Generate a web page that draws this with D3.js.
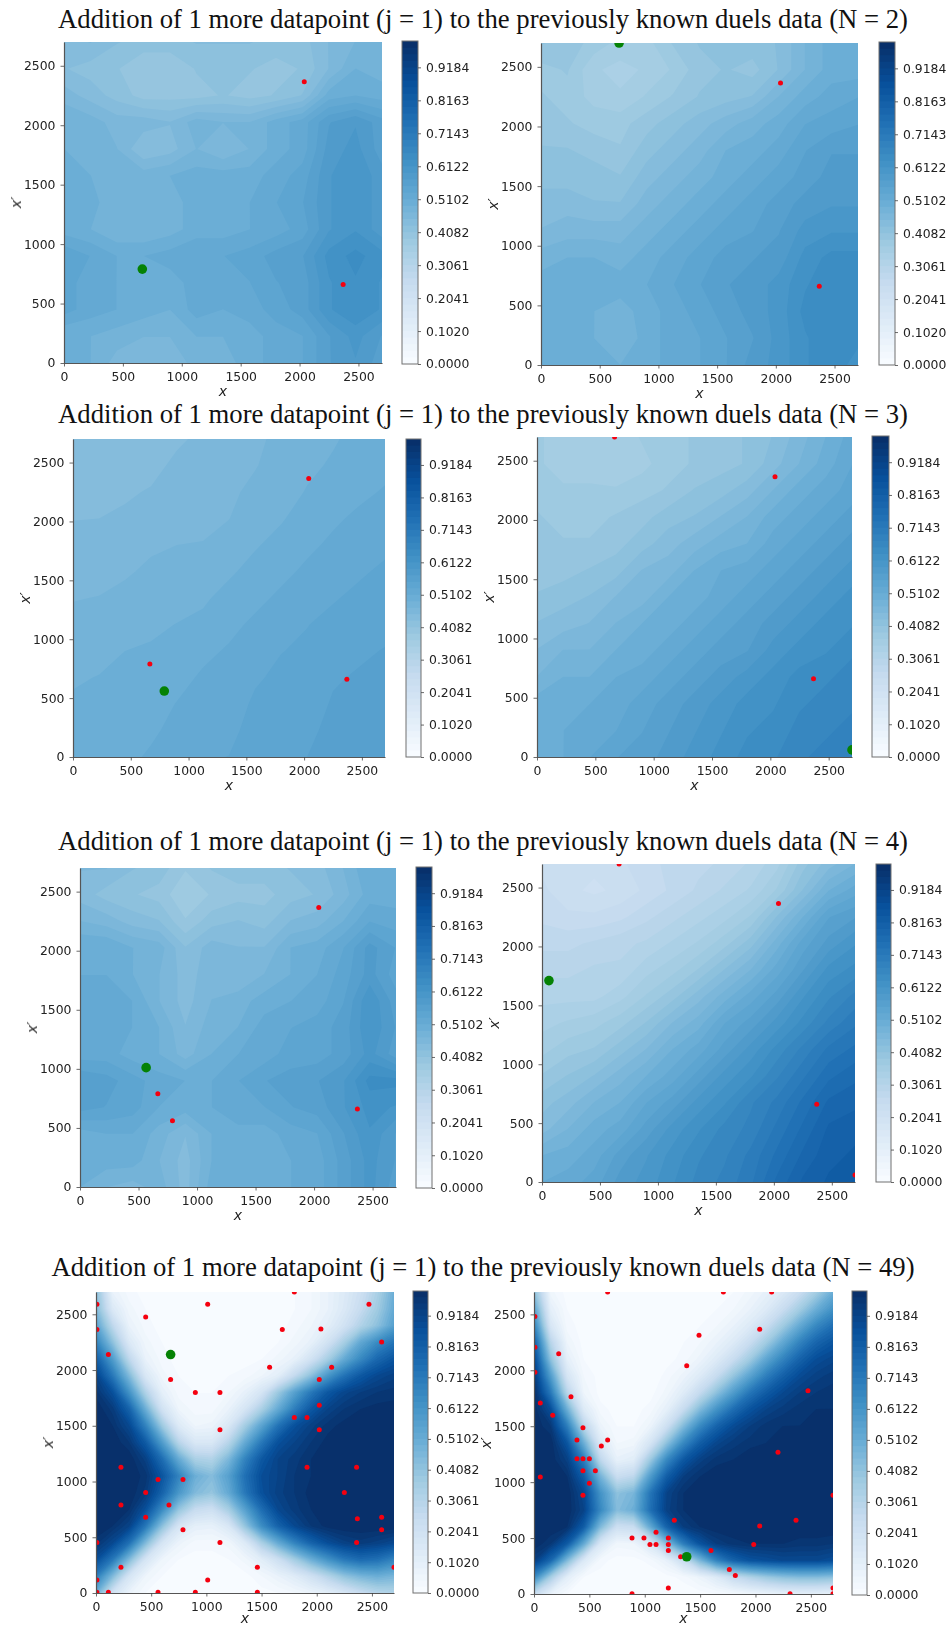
<!DOCTYPE html>
<html>
<head>
<meta charset="utf-8">
<script src="https://cdn.jsdelivr.net/npm/d3@7"></script>
<style>
  body { margin: 0; background: #fff; }
  svg { display: block; }
  .title { font-family: "Liberation Serif", serif; font-size: 26.7px; fill: #111; text-anchor: middle; }
  .tick text { font-family: "DejaVu Sans", sans-serif; font-size: 12.4px; fill: #222; }
  .axlabel { font-family: "DejaVu Sans", sans-serif; font-size: 14px; font-style: italic; fill: #222; text-anchor: middle; }
  .soft { filter: blur(0.3px); }
</style>
</head>
<body>
<div id="plot-container"></div>
<script>
'use strict';
// Acquisition surfaces. Rows run from x' = 2700 down to 0,
// columns from x = 0 to 2700.
const surfN2Left = [
  [.44,.45,.43,.42,.42,.43,.43,.43,.42,.42,.45,.47,.48],
  [.43,.42,.41,.39,.39,.41,.41,.41,.40,.41,.45,.49,.48],
  [.46,.44,.42,.40,.40,.40,.41,.40,.41,.43,.50,.51,.50],
  [.49,.48,.46,.46,.45,.48,.47,.47,.50,.52,.57,.59,.56],
  [.49,.48,.47,.43,.44,.47,.45,.47,.50,.52,.58,.60,.56],
  [.50,.49,.48,.48,.49,.50,.50,.50,.52,.54,.59,.61,.58],
  [.51,.50,.47,.47,.48,.50,.50,.51,.53,.55,.59,.61,.58],
  [.50,.49,.47,.47,.48,.50,.50,.51,.52,.54,.59,.61,.58],
  [.55,.53,.51,.51,.52,.53,.53,.54,.56,.57,.62,.64,.62],
  [.54,.52,.51,.51,.50,.52,.52,.53,.55,.56,.61,.63,.61],
  [.54,.52,.51,.50,.49,.52,.51,.52,.54,.56,.61,.63,.61],
  [.49,.49,.48,.47,.47,.49,.49,.50,.52,.53,.57,.60,.57],
  [.50,.49,.46,.45,.45,.48,.48,.50,.52,.53,.57,.59,.56]
];
const surfN2Right = [
  [.41,.40,.38,.36,.36,.39,.41,.42,.42,.43,.47,.50,.50],
  [.38,.39,.35,.34,.35,.37,.40,.41,.40,.43,.47,.50,.50],
  [.39,.38,.36,.35,.37,.39,.41,.42,.43,.47,.50,.52,.53],
  [.40,.39,.38,.38,.40,.42,.44,.46,.48,.50,.53,.54,.55],
  [.41,.41,.40,.39,.42,.44,.46,.49,.50,.52,.55,.57,.57],
  [.42,.42,.42,.41,.44,.46,.48,.50,.52,.54,.56,.58,.58],
  [.44,.44,.43,.43,.46,.48,.50,.52,.54,.56,.58,.59,.59],
  [.45,.46,.46,.46,.48,.50,.52,.54,.55,.57,.60,.61,.61],
  [.48,.49,.49,.48,.50,.52,.54,.56,.57,.58,.62,.64,.64],
  [.50,.51,.50,.50,.51,.53,.55,.57,.58,.60,.63,.65,.64],
  [.50,.50,.49,.48,.50,.52,.54,.56,.58,.60,.64,.65,.65],
  [.50,.50,.49,.47,.50,.52,.53,.55,.57,.60,.63,.65,.64],
  [.50,.50,.50,.49,.50,.52,.53,.55,.58,.60,.63,.65,.62]
];
const surfN3Left = [
  [.432,.434,.437,.44,.446,.453,.459,.465,.475,.482,.488,.495,.502],
  [.437,.4395,.441,.4435,.453,.457,.462,.468,.479,.486,.492,.498,.505],
  [.443,.4445,.4465,.4505,.458,.461,.465,.475,.482,.491,.4995,.506,.512],
  [.4484,.449,.452,.458,.464,.466,.469,.482,.488,.498,.507,.514,.52],
  [.455,.455,.4595,.4665,.4694,.470,.4775,.488,.496,.506,.514,.521,.5265],
  [.4617,.463,.467,.473,.476,.478,.487,.496,.505,.514,.521,.528,.534],
  [.4685,.47,.4745,.48,.483,.487,.496,.505,.514,.522,.529,.535,.54],
  [.4749,.476,.482,.486,.4903,.494,.505,.514,.522,.53,.536,.541,.546],
  [.4812,.484,.4898,.492,.4975,.5055,.5125,.521,.53,.534,.543,.548,.552],
  [.4876,.4905,.4945,.497,.504,.513,.517,.528,.535,.538,.549,.553,.556],
  [.4925,.4945,.4985,.502,.511,.518,.5205,.534,.539,.542,.553,.557,.56],
  [.497,.499,.503,.508,.514,.523,.5255,.538,.542,.547,.556,.56,.564],
  [.501,.505,.507,.512,.517,.528,.531,.542,.545,.551,.559,.563,.568]
];
const surfN3Right = [
  [.37,.36,.36,.35,.37,.38,.39,.40,.41,.43,.46,.49,.52],
  [.37,.36,.36,.35,.36,.38,.39,.40,.41,.44,.47,.50,.53],
  [.38,.37,.37,.37,.38,.39,.41,.42,.44,.47,.50,.52,.54],
  [.39,.38,.38,.39,.40,.42,.43,.45,.47,.50,.52,.54,.56],
  [.39,.39,.39,.40,.42,.44,.46,.48,.49,.52,.54,.56,.58],
  [.40,.40,.41,.42,.45,.46,.49,.51,.52,.54,.56,.58,.60],
  [.41,.42,.43,.45,.46,.49,.50,.52,.54,.56,.58,.60,.62],
  [.43,.44,.45,.47,.49,.50,.52,.54,.56,.58,.60,.62,.63],
  [.45,.47,.47,.49,.50,.52,.54,.56,.57,.60,.62,.63,.65],
  [.47,.49,.49,.51,.52,.54,.56,.58,.60,.62,.64,.65,.66],
  [.50,.50,.51,.52,.54,.56,.58,.60,.62,.63,.65,.66,.67],
  [.49,.51,.52,.53,.55,.57,.59,.61,.63,.64,.66,.67,.68],
  [.50,.51,.53,.55,.56,.58,.60,.62,.64,.65,.67,.68,.69]
];
const surfN4Left = [
  [.45,.45,.43,.42,.39,.41,.42,.42,.43,.44,.47,.51,.50],
  [.44,.42,.41,.40,.37,.39,.40,.40,.42,.43,.46,.50,.50],
  [.47,.46,.44,.43,.39,.42,.43,.42,.45,.46,.49,.53,.52],
  [.51,.51,.49,.48,.43,.46,.45,.45,.49,.50,.53,.58,.55],
  [.51,.51,.49,.47,.44,.46,.45,.47,.49,.51,.54,.58,.54],
  [.52,.52,.51,.47,.44,.47,.48,.50,.51,.52,.55,.61,.56],
  [.53,.52,.51,.49,.45,.48,.49,.52,.53,.54,.56,.61,.57],
  [.52,.52,.50,.49,.46,.49,.51,.52,.54,.54,.56,.60,.56],
  [.57,.56,.54,.52,.51,.51,.53,.55,.56,.57,.59,.64,.64],
  [.56,.55,.54,.51,.50,.51,.53,.53,.55,.56,.59,.62,.61],
  [.50,.51,.51,.48,.45,.49,.50,.50,.52,.53,.57,.61,.57],
  [.50,.50,.50,.47,.44,.49,.49,.50,.51,.52,.56,.60,.57],
  [.49,.47,.46,.48,.44,.50,.50,.50,.51,.52,.56,.60,.56]
];
const surfN4Right = [
  [.24,.23,.23,.24,.26,.27,.28,.29,.31,.34,.40,.44,.47],
  [.25,.23,.22,.23,.25,.27,.29,.31,.33,.37,.43,.49,.52],
  [.26,.25,.25,.26,.28,.30,.32,.34,.37,.43,.49,.55,.57],
  [.28,.28,.29,.30,.31,.33,.35,.38,.42,.48,.54,.58,.61],
  [.30,.30,.31,.31,.34,.36,.39,.43,.47,.52,.57,.62,.64],
  [.32,.32,.32,.34,.37,.40,.44,.48,.52,.56,.61,.65,.68],
  [.34,.35,.36,.38,.41,.45,.48,.53,.56,.60,.64,.68,.71],
  [.36,.38,.39,.42,.45,.49,.52,.56,.60,.64,.68,.72,.74],
  [.39,.41,.43,.46,.49,.52,.56,.60,.63,.67,.71,.75,.77],
  [.42,.44,.47,.49,.53,.56,.60,.63,.67,.70,.74,.78,.79],
  [.44,.47,.50,.52,.56,.60,.63,.66,.68,.72,.76,.80,.81],
  [.49,.50,.52,.56,.59,.62,.65,.67,.70,.74,.78,.81,.82],
  [.51,.52,.54,.58,.60,.63,.66,.68,.71,.76,.80,.82,.83]
];
const surfN49Left = [
  [.42,.08,.03,.01,0,0,0,0,0,0,0,.01,.02,.04,.08,.14,.22,.34,.50],
  [.45,.15,.05,.02,0,0,0,0,0,0,0,.01,.02,.04,.08,.15,.25,.37,.52],
  [.55,.28,.08,.03,.01,0,0,0,0,0,0,.01,.03,.06,.11,.20,.32,.42,.56],
  [.68,.42,.15,.05,.02,0,0,0,0,0,.01,.02,.05,.09,.20,.35,.53,.65,.73],
  [.82,.58,.28,.08,.03,.01,0,0,0,.01,.02,.05,.09,.20,.35,.52,.66,.78,.85],
  [.92,.72,.45,.16,.05,.02,.01,.01,.02,.03,.06,.11,.26,.42,.60,.74,.84,.90,.93],
  [.97,.87,.62,.32,.10,.03,.02,.02,.04,.09,.18,.38,.56,.72,.84,.91,.94,.96,.97],
  [1,.95,.80,.50,.20,.06,.03,.03,.08,.18,.34,.52,.70,.84,.92,.96,.98,.99,.99],
  [1,.98,.90,.68,.38,.14,.06,.07,.16,.36,.55,.74,.87,.93,.97,.99,1,1,1],
  [1,1,.96,.83,.58,.30,.16,.16,.30,.52,.72,.87,.92,.96,.99,1,1,1,1],
  [1,1,1,.93,.76,.52,.34,.32,.46,.68,.84,.92,.95,.98,1,1,1,1,1],
  [1,1,1,.97,.85,.68,.50,.44,.56,.75,.88,.92,.96,.98,1,1,1,1,1],
  [1,1,1,.95,.80,.60,.45,.40,.52,.72,.87,.93,.96,.99,1,1,1,1,1],
  [1,1,.98,.87,.65,.40,.25,.22,.35,.56,.76,.90,.95,.98,1,1,1,1,1],
  [1,.98,.92,.72,.42,.18,.10,.09,.16,.40,.64,.80,.90,.96,.99,1,1,1,1],
  [.97,.90,.75,.45,.18,.07,.03,.03,.05,.14,.34,.52,.68,.80,.88,.93,.95,.93,.90],
  [.88,.72,.45,.18,.06,.02,.01,.01,.02,.05,.12,.22,.36,.50,.62,.72,.77,.75,.68],
  [.70,.45,.18,.06,.02,.01,0,0,0,.01,.04,.08,.13,.21,.31,.41,.47,.50,.47],
  [.50,.20,.07,.02,.01,0,0,0,0,0,.01,.02,.04,.07,.11,.17,.24,.30,.32]
];
const surfN49Right = [
  [.42,.05,.01,0,0,0,0,0,0,0,0,.01,.02,.05,.09,.15,.24,.36,.50],
  [.55,.10,.02,0,0,0,0,0,0,0,.01,.02,.04,.08,.14,.24,.36,.50,.62],
  [.68,.17,.03,.01,0,0,0,0,0,.01,.02,.04,.08,.14,.24,.37,.52,.66,.75],
  [.82,.30,.06,.01,0,0,0,0,0,.02,.04,.08,.14,.24,.37,.53,.68,.79,.85],
  [.91,.42,.10,.02,.01,0,0,0,.01,.03,.07,.14,.24,.37,.54,.68,.80,.88,.91],
  [.96,.58,.18,.04,.01,0,0,0,.03,.07,.14,.25,.40,.55,.70,.81,.89,.93,.95],
  [1,.72,.30,.06,.01,0,0,.01,.05,.13,.26,.42,.58,.73,.83,.90,.94,.96,.97],
  [1,.88,.50,.14,.03,.01,.01,.03,.10,.25,.45,.62,.76,.86,.92,.95,.97,.98,.98],
  [1,.96,.70,.30,.07,.02,.02,.07,.22,.45,.66,.80,.89,.94,.97,.98,.98,.99,.99],
  [1,1,.85,.50,.15,.04,.05,.18,.42,.66,.82,.91,.95,.97,.98,.99,1,1,1],
  [1,1,.93,.70,.28,.09,.12,.38,.66,.84,.93,.97,.98,1,1,1,1,1,1],
  [1,1,.98,.82,.48,.24,.28,.58,.82,.94,.98,1,1,1,1,1,1,1,1],
  [1,1,1,.90,.62,.42,.47,.73,.92,.98,1,1,1,1,1,1,1,1,1],
  [1,1,1,.92,.66,.44,.50,.75,.93,.98,1,1,1,1,1,1,1,1,1],
  [1,1,.98,.82,.45,.22,.24,.52,.80,.94,.98,1,1,1,1,1,1,1,1],
  [1,.96,.83,.52,.16,.05,.06,.16,.44,.70,.86,.94,.97,.98,.98,.98,.97,.97,.96],
  [.94,.78,.45,.15,.03,.01,.01,.03,.09,.24,.47,.68,.80,.86,.88,.90,.90,.90,.88],
  [.65,.35,.11,.02,.01,0,0,0,.01,.03,.07,.14,.25,.32,.38,.42,.44,.44,.42],
  [.25,.08,.02,0,0,0,0,0,0,0,.01,.02,.03,.05,.07,.09,.10,.10,.09]
];

// Known duels (red) and the newly picked point (green), as [x, x']
const redN2 = [[2040,2365],[2370,660]];
const redN3Left = [[665,790],[2040,2365],[2370,660]];
const redN3Right = [[665,2700],[2040,2365],[2370,660]];
const redN4Left = [[665,790],[790,560],[2040,2365],[2370,660]];
const redN4Right = [[665,2700],[2040,2365],[2370,660],[2700,60]];
const redN49Left = [
  [8,2590],[8,2363],[112,2139],[450,2476],[1012,2590],[1797,2700],[2473,2590],[1688,2363],[2038,2369],
  [2588,2252],[1573,2026],[2135,2026],[2023,1915],[676,1915],[900,1799],[1123,1799],[2023,1685],
  [1797,1575],[1912,1575],[2023,1465],[1123,1465],[226,1128],[1912,1128],[2361,1128],[562,1017],
  [788,1017],[450,901],[2250,901],[226,790],[661,790],[450,680],[2368,665],[2588,680],[788,567],
  [2588,567],[8,453],[1123,453],[2361,453],[226,230],[1462,230],[2700,230],[8,116],[1012,116],
  [8,6],[112,6],[562,6],[900,6],[1462,6]
];
const redN49Right = [
  [665,2700],[1710,2700],[2146,2700],[8,2480],[1490,2314],[2038,2368],[8,2206],[223,2147],[1379,2040],
  [8,1983],[2474,1817],[334,1763],[57,1707],[169,1597],[442,1487],[388,1377],[665,1377],[608,1323],
  [2203,1267],[388,1210],[442,1210],[500,1210],[442,1103],[554,1103],[57,1047],[500,990],[442,883],
  [2700,883],[1267,660],[2366,660],[2038,607],[1102,553],[885,500],[993,500],[1213,500],[1047,443],
  [1102,443],[1213,443],[1984,443],[1213,390],[1598,390],[1324,333],[1764,220],[1818,166],[1213,54],
  [2700,54],[885,3],[2312,3],[2700,3]
];
const greenPicks = [[665,790],[665,2700],[790,560],[2700,60],[565,1010],[60,1710],[676,2139],[1379,333]];

const titleN = ["2","3","4","49"];
const axisTicks = [0,500,1000,1500,2000,2500];
const cbarTicks = [0,0.1020,0.2041,0.3061,0.4082,0.5102,0.6122,0.7143,0.8163,0.9184];
const bluesStops = ["#f7fbff","#deebf7","#c6dbef","#9ecae1","#6baed6","#4292c6","#2171b5","#08519c","#08306b"];

const surfaces = [surfN2Left,surfN2Right,surfN3Left,surfN3Right,surfN4Left,surfN4Right,surfN49Left,surfN49Right];
const reds = [redN2,redN2,redN3Left,redN3Right,redN4Left,redN4Right,redN49Left,redN49Right];

// Layout, pixels: plot box and colorbar box of each subplot, xl = x label drop
const boxes = [
  {l:64, r:382, t:42, b:363, cl:402, cr:418, ct:41, cb:364, xl:33},
  {l:541,r:858, t:43, b:365, cl:879, cr:895, ct:42, cb:365, xl:33},
  {l:73, r:385, t:439,b:757, cl:406, cr:421, ct:439,cb:757, xl:33},
  {l:537,r:852, t:437,b:757, cl:872, cr:889, ct:436,cb:757, xl:33},
  {l:80, r:396, t:868,b:1187,cl:416, cr:432, ct:867,cb:1188, xl:33},
  {l:542,r:855, t:864,b:1182,cl:876, cr:891, ct:864,cb:1182, xl:33},
  {l:96, r:394, t:1292,b:1593,cl:413,cr:428, ct:1291,cb:1593, xl:30},
  {l:534,r:833, t:1292,b:1594,cl:852,cr:867, ct:1291,cb:1595, xl:29}
];
const titleBaselines = [28,423,850,1276];

const width = 948, height = 1627;
const svg = d3.select("#plot-container").append("svg").attr("width", width).attr("height", height);

// Same stops as the Blues colormap, linear between them
const cmap = d3.scaleLinear().domain(bluesStops.map((c, i) => i / 8)).range(bluesStops).interpolate(d3.interpolateRgb);
const nBands = 49;
const levels = d3.range(nBands + 1).map(i => i / nBands);

titleN.forEach((n, i) => {
  svg.append("text").attr("class", "title")
    .attr("x", 483)
    .attr("y", titleBaselines[i])
    .text(`Addition of 1 more datapoint (j = 1) to the previously known duels data (N = ${n})`);
});

surfaces.forEach((grid, k) => {
  const box = boxes[k];
  const g = svg.append("g");
  const x = d3.scaleLinear().domain([0, 2700]).range([box.l, box.r]);
  const y = d3.scaleLinear().domain([0, 2700]).range([box.b, box.t]);

  const clipId = `clip-${k}`;
  svg.append("clipPath").attr("id", clipId).append("rect")
    .attr("x", box.l).attr("y", box.t).attr("width", box.r - box.l).attr("height", box.b - box.t);

  // filled contours; d3.contours puts grid node i at i + 0.5
  const ny = grid.length, nx = grid[0].length;
  const stepX = 2700 / (nx - 1), stepY = 2700 / (ny - 1);
  const contours = d3.contours().size([nx, ny]).smooth(true).thresholds(levels.slice(0, nBands));
  const bands = contours(grid.flat());
  const project = d3.geoTransform({
    point(cx, cy) {
      this.stream.point(x((cx - 0.5) * stepX), y(2700 - (cy - 0.5) * stepY));
    }
  });
  const path = d3.geoPath(project);
  const clipped = g.append("g").attr("clip-path", `url(#${clipId})`);
  const heat = clipped.append("g").style("filter", "blur(0.4px)");
  heat.selectAll("path").data(bands).join("path")
    .attr("d", path)
    .attr("fill", (d, i) => cmap(i / (nBands - 1)));

  clipped.append("g").selectAll("circle").data(reds[k]).join("circle")
    .attr("cx", d => x(d[0])).attr("cy", d => y(d[1])).attr("r", 2.5).attr("fill", "#f5000f");
  clipped.append("circle")
    .attr("cx", x(greenPicks[k][0])).attr("cy", y(greenPicks[k][1])).attr("r", 4.8).attr("fill", "#058205");

  // axes, only the left and bottom spines show
  const axB = g.append("g").attr("class", "soft").attr("transform", `translate(0,${box.b})`)
    .call(d3.axisBottom(x).tickValues(axisTicks).tickFormat(d3.format("d")).tickSize(3.5).tickSizeOuter(0).tickPadding(5.5));
  const axL = g.append("g").attr("class", "soft").attr("transform", `translate(${box.l},0)`)
    .call(d3.axisLeft(y).tickValues(axisTicks).tickFormat(d3.format("d")).tickSize(3.5).tickSizeOuter(0).tickPadding(5));
  [axB, axL].forEach(a => {
    a.select(".domain").attr("stroke", "#555").attr("stroke-width", 1.2);
    a.selectAll(".tick line").attr("stroke", "#444").attr("stroke-width", 0.8);
  });

  g.append("text").attr("class", "axlabel soft")
    .attr("x", (box.l + box.r) / 2).attr("y", box.b + box.xl).text("x");
  g.append("text").attr("class", "axlabel soft")
    .attr("transform", `translate(${box.l - 43},${(box.t + box.b) / 2}) rotate(-90)`).text("x′");

  // colorbar
  const c = d3.scaleLinear().domain([0, 1]).range([box.cb, box.ct]);
  const bar = g.append("g");
  bar.selectAll("rect").data(levels.slice(0, nBands)).join("rect")
    .attr("x", box.cl).attr("width", box.cr - box.cl)
    .attr("y", box.ct + 0)
    .attr("height", d => c(d) - box.ct)
    .attr("fill", (d, i) => cmap(i / (nBands - 1)));
  bar.append("rect").attr("x", box.cl).attr("y", box.ct)
    .attr("width", box.cr - box.cl).attr("height", box.cb - box.ct)
    .attr("fill", "none").attr("stroke", "#707070").attr("stroke-width", 1);
  const axC = bar.append("g").attr("class", "soft").attr("transform", `translate(${box.cr},0)`)
    .call(d3.axisRight(c).tickValues(cbarTicks).tickFormat(d3.format(".4f")).tickSize(3).tickSizeOuter(0).tickPadding(5));
  axC.select(".domain").remove();
  axC.selectAll(".tick line").attr("stroke", "#444").attr("stroke-width", 0.8);
});
</script>
</body>
</html>
